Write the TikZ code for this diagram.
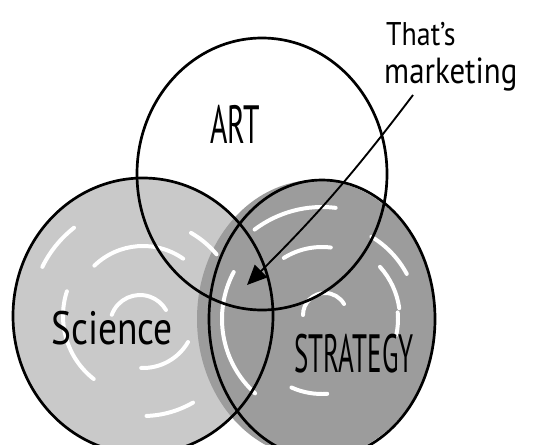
\documentclass[tikz,border=0pt]{standalone}
\usepackage{fontspec}
\setmainfont{PT Sans}
\usepackage{graphicx}
\usetikzlibrary{arrows.meta}

\definecolor{sciencegray}{gray}{0.79}
\definecolor{strategygray}{gray}{0.61}

% squeeze the lettering sideways
\newcommand{\slim}[2]{\scalebox{#1}[1]{#2}}

\tikzset{
  % outline of one set
  set line/.style = {
    draw = black,
    line width = 2.3pt
  },
  % white brush strokes inside the shaded sets
  swirl/.style = {
    draw = white,
    line width = 3.4pt,
    line cap = round
  },
  % lettering
  hand/.style = {
    inner sep = 0,
    text = black
  },
  pointer/.style = {
    draw = black,
    line width = 1.6pt,
    -{Triangle[length = 17pt, width = 15pt]}
  }
}

\begin{document}
\begin{tikzpicture}[x = 0.03cm, y = -0.03cm]
    \useasboundingbox (0,0) rectangle (533,444);
    \clip (0,0) rectangle (533,444);

    \coordinate (art) at (262,174);
    \coordinate (science) at (143,316);
    \coordinate (strategy) at (322,319);
    \coordinate (core) at (247,285);
    \coordinate (tail) at (413,95);

    \fill[sciencegray] (science) ellipse [x radius = 130, y radius = 138];
    \fill[strategygray] (316,319) ellipse [x radius = 119, y radius = 139];

    % strokes in the science set
    \draw[swirl] (science) ++(206:112) arc [start angle = 206, end angle = 232, radius = 112];
    \draw[swirl] (science) ++(198:80) arc [start angle = 198, end angle = 128, radius = 80];
    \draw[swirl] (science) ++(226:70) arc [start angle = 226, end angle = 305, radius = 70];
    \draw[swirl] (140,325) ++(200:30) arc [start angle = 200, end angle = 330, radius = 30];
    \draw[swirl] (science) ++(92:52) arc [start angle = 92, end angle = 30, radius = 52];
    \draw[swirl] (science) ++(88:100) arc [start angle = 88, end angle = 60, radius = 100];
    \draw[swirl] (science) ++(300:96) arc [start angle = 300, end angle = 320, radius = 96];

    % strokes in the strategy set
    \draw[swirl] (strategy) ++(233:112) arc [start angle = 233, end angle = 277, radius = 112];
    \draw[swirl] (strategy) ++(238:72) arc [start angle = 238, end angle = 277, radius = 72];
    \draw[swirl] (strategy) ++(208:100) arc [start angle = 208, end angle = 132, radius = 100];
    \draw[swirl] (325,315) ++(180:22) arc [start angle = 180, end angle = 330, radius = 22];
    \draw[swirl] (strategy) ++(318:78) arc [start angle = 318, end angle = 352, radius = 78];
    \draw[swirl] (strategy) ++(355:76) arc [start angle = 355, end angle = 372, radius = 76];
    \draw[swirl] (strategy) ++(114:75) arc [start angle = 114, end angle = 86, radius = 75];
    \draw[swirl] (strategy) ++(301:96) arc [start angle = 301, end angle = 332, radius = 96];

    \draw[set line] (science) ellipse [x radius = 130, y radius = 138];
    \draw[set line] (strategy) ellipse [x radius = 113, y radius = 139];
    \draw[set line] (art) ellipse [x radius = 125, y radius = 136];

    \node[hand, font = \fontsize{46}{46}\selectfont] (artlabel) at (235,124) {\slim{0.55}{ART}};
    \node[hand, font = \fontsize{40}{40}\selectfont] (sciencelabel) at (112,328) {\slim{0.8}{Science}};
    \node[hand, font = \fontsize{46}{46}\selectfont] (strategylabel) at (354,354) {\slim{0.5}{STRATEGY}};
    \node[hand, font = \fontsize{28}{28}\selectfont, anchor = west] (thats) at (386,34) {\slim{0.85}{That's}};
    \node[hand, font = \fontsize{31}{31}\selectfont, anchor = west] (mkt) at (384,74) {\slim{0.85}{marketing}};

    \draw[pointer] (tail) to[bend left = 4] (core);
\end{tikzpicture}
\end{document}
